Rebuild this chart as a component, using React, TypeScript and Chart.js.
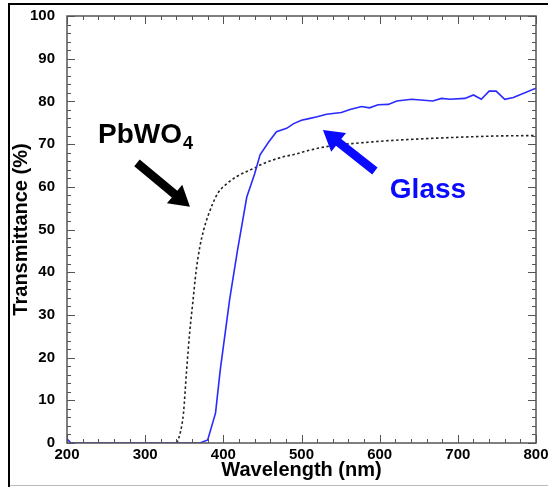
import React, { useEffect, useRef } from "react";
import { Chart, registerables } from "chart.js";

Chart.register(...registerables);

const FONT = "'Liberation Sans', Arial, Helvetica, sans-serif";

// Glass (blue solid)
const glassWavelength = [200, 205, 370, 380, 390, 396, 408, 418, 430, 440, 447, 458, 468, 481, 490, 500, 508, 520, 532, 551, 562, 577, 587, 598, 611, 622, 641, 668, 679, 690, 709, 720, 730, 740, 749, 760, 771, 800];
const glassTransmittance = [1, 0, 0, 0.7, 7, 17, 33.5, 45, 57.6, 63, 67.5, 70.5, 72.9, 73.7, 74.8, 75.6, 75.9, 76.4, 77, 77.4, 78.1, 78.8, 78.5, 79.2, 79.3, 80.1, 80.5, 80.1, 80.7, 80.5, 80.7, 81.5, 80.5, 82.4, 82.4, 80.5, 80.9, 83.1];

// PbWO4 (black dotted)
const pbwoWavelength = [340.6, 345, 349, 353, 357, 361, 365, 370, 375, 380, 393, 405, 417, 430, 440, 447, 476, 489, 511, 532, 596, 650, 700, 750, 800];
const pbwoTransmittance = [0, 2.5, 7, 17, 26, 33, 40, 46, 50, 53, 58.5, 60.8, 62.4, 63.6, 64.4, 65.1, 67, 67.5, 68.6, 69.4, 70.6, 71.2, 71.6, 71.9, 72];

const xTickLabels = ["200", "300", "400", "500", "600", "700", "800"];
const yTickLabels = ["0", "10", "20", "30", "40", "50", "60", "70", "80", "90", "100"];

// annotations in data units: [x, y]
const pbwoLabelPos = [239.6, 70.3];
const pbwoArrow = [[289.5, 65.6], [357.3, 55.3]];
const glassLabelPos = [613, 57.4];
const glassArrow = [[593.9, 63.7], [527.4, 73.3]];

function toPoints(xs: number[], ys: number[]) {
  return xs.map((x, i) => ({ x, y: ys[i] }));
}

function drawArrow(ctx: CanvasRenderingContext2D, x1: number, y1: number, x2: number, y2: number, color: string) {
  const ang = Math.atan2(y2 - y1, x2 - x1);
  const len = Math.hypot(x2 - x1, y2 - y1);
  const headLen = 20;
  const headW = 12;
  const shaftW = 4.3;
  ctx.save();
  ctx.translate(x1, y1);
  ctx.rotate(ang);
  ctx.fillStyle = color;
  ctx.beginPath();
  ctx.moveTo(0, -shaftW);
  ctx.lineTo(len - headLen, -shaftW);
  ctx.lineTo(len - headLen, -headW);
  ctx.lineTo(len, 0);
  ctx.lineTo(len - headLen, headW);
  ctx.lineTo(len - headLen, shaftW);
  ctx.lineTo(0, shaftW);
  ctx.closePath();
  ctx.fill();
  ctx.restore();
}

const decorPlugin = {
  id: "decor",
  beforeDraw(chart: any) {
    const ctx = chart.ctx as CanvasRenderingContext2D;
    ctx.save();
    ctx.fillStyle = "#fff";
    ctx.fillRect(0, 0, chart.width, chart.height);
    // outer frame
    ctx.strokeStyle = "#000";
    ctx.lineWidth = 2;
    ctx.beginPath();
    ctx.moveTo(548, 4);
    ctx.lineTo(9, 4);
    ctx.lineTo(9, 487);
    ctx.stroke();
    ctx.strokeStyle = "#bbb";
    ctx.lineWidth = 1;
    ctx.beginPath();
    ctx.moveTo(10, 485.5);
    ctx.lineTo(548, 485.5);
    ctx.stroke();
    ctx.restore();
  },
  afterDraw(chart: any) {
    const ctx = chart.ctx as CanvasRenderingContext2D;
    const { left, right, top, bottom } = chart.chartArea;
    const xs = chart.scales.x;
    const ys = chart.scales.y;
    ctx.save();
    ctx.strokeStyle = "#555";
    ctx.lineWidth = 1.5;
    ctx.strokeRect(left, top, right - left, bottom - top);
    ctx.lineWidth = 1;
    for (let v = 200; v <= 800; v += 20) {
      const px = Math.round(xs.getPixelForValue(v)) + 0.5;
      const l = v % 100 === 0 ? 8 : 4;
      ctx.beginPath();
      ctx.moveTo(px, bottom);
      ctx.lineTo(px, bottom - l);
      ctx.moveTo(px, top);
      ctx.lineTo(px, top + l);
      ctx.stroke();
    }
    for (let v = 0; v <= 100; v += 2) {
      const py = Math.round(ys.getPixelForValue(v)) + 0.5;
      const l = v % 10 === 0 ? 8 : 4;
      ctx.beginPath();
      ctx.moveTo(left, py);
      ctx.lineTo(left + l, py);
      ctx.moveTo(right, py);
      ctx.lineTo(right - l, py);
      ctx.stroke();
    }
    // arrows
    drawArrow(ctx, xs.getPixelForValue(pbwoArrow[0][0]), ys.getPixelForValue(pbwoArrow[0][1]), xs.getPixelForValue(pbwoArrow[1][0]), ys.getPixelForValue(pbwoArrow[1][1]), "#000");
    drawArrow(ctx, xs.getPixelForValue(glassArrow[0][0]), ys.getPixelForValue(glassArrow[0][1]), xs.getPixelForValue(glassArrow[1][0]), ys.getPixelForValue(glassArrow[1][1]), "#0a0aff");
    // labels
    ctx.textBaseline = "alphabetic";
    ctx.textAlign = "left";
    ctx.fillStyle = "#000";
    ctx.font = `bold 28px ${FONT}`;
    const px = xs.getPixelForValue(pbwoLabelPos[0]);
    const py = ys.getPixelForValue(pbwoLabelPos[1]);
    ctx.fillText("PbWO", px, py);
    const w = ctx.measureText("PbWO").width;
    ctx.font = `bold 18px ${FONT}`;
    ctx.fillText("4", px + w + 1, py + 6);
    ctx.fillStyle = "#0a0aff";
    ctx.font = `bold 28px ${FONT}`;
    ctx.fillText("Glass", xs.getPixelForValue(glassLabelPos[0]), ys.getPixelForValue(glassLabelPos[1]));
    ctx.restore();
  },
};

export default function App() {
  const ref = useRef<HTMLCanvasElement | null>(null);
  useEffect(() => {
    if (!ref.current) return;
    const chart = new Chart(ref.current, {
      type: "line",
      data: {
        datasets: [
          {
            label: "Glass",
            data: toPoints(glassWavelength, glassTransmittance),
            borderColor: "#2a2aff",
            borderWidth: 1.6,
            pointRadius: 0,
            tension: 0,
            fill: false,
          },
          {
            label: "PbWO4",
            data: toPoints(pbwoWavelength, pbwoTransmittance),
            borderColor: "#222",
            borderWidth: 1.6,
            borderDash: [2.5, 2.5],
            pointRadius: 0,
            cubicInterpolationMode: "monotone",
            fill: false,
          },
        ],
      },
      options: {
        responsive: false,
        animation: false,
        layout: { padding: { left: 10, top: 16, right: 12, bottom: 0 } },
        plugins: { legend: { display: false }, tooltip: { enabled: false } },
        scales: {
          x: {
            type: "linear",
            min: 200,
            max: 800,
            grid: { display: false, drawTicks: false },
            border: { display: false },
            ticks: {
              stepSize: 100,
              padding: 3,
              color: "#000",
              font: { family: FONT, size: 15, weight: "bold" },
              callback: (v: any) => xTickLabels.find((t) => Number(t) === v) ?? "",
            },
            title: {
              display: true,
              text: "Wavelength (nm)",
              color: "#000",
              font: { family: FONT, size: 20, weight: "bold", lineHeight: 1 },
              padding: { top: 0, bottom: 7 },
            },
            afterFit: (s: any) => {
              s.height = 44;
              s.paddingLeft = 0;
              s.paddingRight = 0;
            },
          },
          y: {
            type: "linear",
            min: 0,
            max: 100,
            grid: { display: false, drawTicks: false },
            border: { display: false },
            ticks: {
              stepSize: 10,
              padding: 12,
              color: "#000",
              font: { family: FONT, size: 15, weight: "bold" },
              callback: (v: any) => yTickLabels.find((t) => Number(t) === v) ?? "",
            },
            title: {
              display: true,
              text: "Transmittance (%)",
              color: "#000",
              font: { family: FONT, size: 20, weight: "bold", lineHeight: 1 },
              padding: { top: 1, bottom: 0 },
            },
            afterFit: (s: any) => {
              s.width = 57;
              s.paddingTop = 0;
              s.paddingBottom = 0;
            },
          },
        },
      } as any,
      plugins: [decorPlugin],
    });
    return () => chart.destroy();
  }, []);
  return (
    <div style={{ position: "absolute", left: 0, top: 0, width: 548, height: 487 }}>
      <canvas ref={ref} width={548} height={487} style={{ display: "block" }} />
    </div>
  );
}
